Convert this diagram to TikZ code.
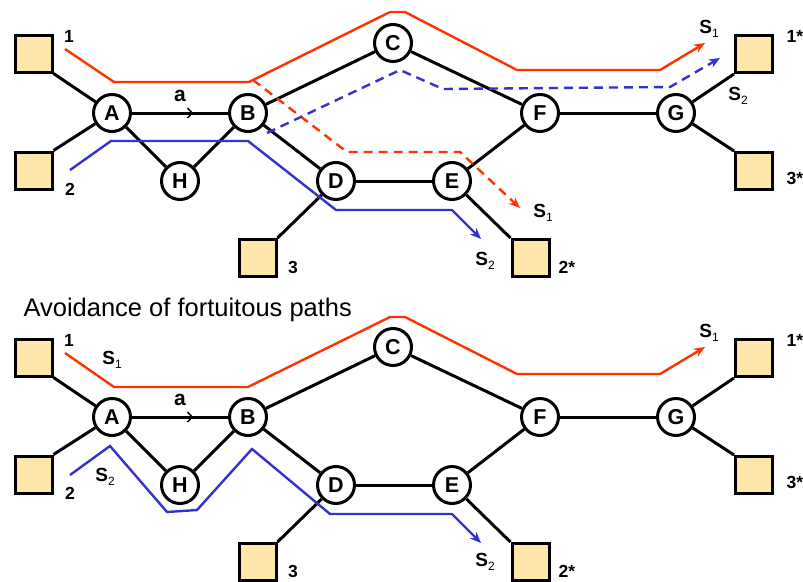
\documentclass[tikz,border=0pt]{standalone}
\usepackage{fontspec}
\setmainfont{Liberation Sans}
\usetikzlibrary{arrows.meta, decorations.markings}
\definecolor{pathone}{HTML}{FF3300}
\definecolor{pathtwo}{HTML}{3333CC}
\definecolor{hostfill}{HTML}{FFE6AA}

% route name with its index as a small subscript
\newcommand{\routename}[1]{S\raisebox{-0.4ex}{\fontsize{12}{12}\selectfont\mdseries #1}}

\tikzset{
  switch/.style={circle, draw, line width=3pt, fill=white, minimum size=37pt,
    inner sep=0pt, font=\bfseries\fontsize{21.5}{21.5}\selectfont},
  host/.style={rectangle, draw, line width=3pt, fill=hostfill, minimum size=37pt, inner sep=0pt},
  link/.style={line width=3pt},
  hostlabel/.style={font=\bfseries\fontsize{17.5}{17.5}\selectfont},
  routelabel/.style={font=\bfseries\fontsize{19}{19}\selectfont},
  route/.style={line width=2.4pt, -{Stealth[length=11pt, width=9pt]}},
  detour/.style={route, dash pattern=on 9pt off 6pt},
  midarrow/.style={postaction={decorate}, decoration={markings,
    mark=at position 0.64 with {\arrow{Straight Barb[length=5pt, width=10pt, line width=1.4pt]}}}}
}

% the network, drawn once for each panel
\newcommand{\drawnet}{%
  % switches
  \node[switch] (A) at (112,113) {A};
  \node[switch] (B) at (248,113) {B};
  \node[switch] (C) at (393,43) {C};
  \node[switch] (D) at (336,181) {D};
  \node[switch] (E) at (452,181) {E};
  \node[switch] (F) at (540,113) {F};
  \node[switch] (G) at (676,113) {G};
  \node[switch] (H) at (180,181) {H};
  % hosts and their numbers
  \node[host] (h1) at (33.5,53.5) {};
  \node[host] (h2) at (33.5,170.5) {};
  \node[host] (h3) at (257.5,258) {};
  \node[host] (h1s) at (754,54) {};
  \node[host] (h2s) at (530.5,258) {};
  \node[host] (h3s) at (754,171) {};
  \node[hostlabel] (n1) at (69,36) {1};
  \node[hostlabel] (n2) at (70,189) {2};
  \node[hostlabel] (n3) at (293,267) {3};
  \node[hostlabel] (n1s) at (795,36) {1*};
  \node[hostlabel] (n2s) at (567,267) {2*};
  \node[hostlabel] (n3s) at (795,178) {3*};
  % links
  \draw[link] (h1.south east) -- (A);
  \draw[link] (h2.north east) -- (A);
  \draw[link, midarrow] (A) -- node[above=6pt, font=\bfseries\fontsize{21}{21}\selectfont] {a} (B);
  \draw[link] (A) -- (H);
  \draw[link] (H) -- (B);
  \draw[link] (B) -- (C);
  \draw[link] (B) -- (D);
  \draw[link] (C) -- (F);
  \draw[link] (D) -- (E);
  \draw[link] (E) -- (F);
  \draw[link] (F) -- (G);
  \draw[link] (h3.north east) -- (D);
  \draw[link] (h2s.north west) -- (E);
  \draw[link] (h1s.south west) -- (G);
  \draw[link] (h3s.north west) -- (G);
}

\begin{document}
\begin{tikzpicture}[x=1pt, y=-1pt]
  \useasboundingbox (0,0) rectangle (803,581);

  % upper panel: routes that meet at B
  \begin{scope}[name prefix=top-]
    \drawnet
    \draw[route, pathone] (65,49) -- (114,82) -- (249,82) -- (390,12) -- (405,12)
      -- (517,70) -- (660,70) -- (705,43);
    \draw[detour, pathone] (253,80) -- (347,152) -- (460,152) -- (520,208);
    \draw[route, pathtwo] (70,170) -- (111,141) -- (248,141) -- (336,210) -- (452,210) -- (481,239);
    \draw[detour, pathtwo] (267,133) -- (400,70) -- (443,89) -- (670,87) -- (720,58);
    \node[routelabel] (s1) at (709,29) {\routename{1}};
    \node[routelabel] (s2) at (738,96) {\routename{2}};
    \node[routelabel] (s1d) at (543,213) {\routename{1}};
    \node[routelabel] (s2d) at (485,261) {\routename{2}};
  \end{scope}

  \node[anchor=base west, font=\fontsize{25.5}{25.5}\selectfont] (title) at (20,316)
    {Avoidance of fortuitous paths};

  % lower panel: the second route keeps apart from A--B
  \begin{scope}[shift={(0,304)}, name prefix=bot-]
    \drawnet
    \draw[route, pathone] (65,49) -- (114,83) -- (248,83) -- (390,13) -- (405,13)
      -- (517,70) -- (660,70) -- (705,43);
    \draw[route, pathtwo] (70,171) -- (110,142) -- (167,208) -- (197,206) -- (252,145)
      -- (330,210) -- (452,210) -- (481,239);
    \node[routelabel] (s1) at (112,56) {\routename{1}};
    \node[routelabel] (s2) at (105,173) {\routename{2}};
    \node[routelabel] (s1e) at (709,29) {\routename{1}};
    \node[routelabel] (s2e) at (485,258) {\routename{2}};
  \end{scope}
\end{tikzpicture}
\end{document}
